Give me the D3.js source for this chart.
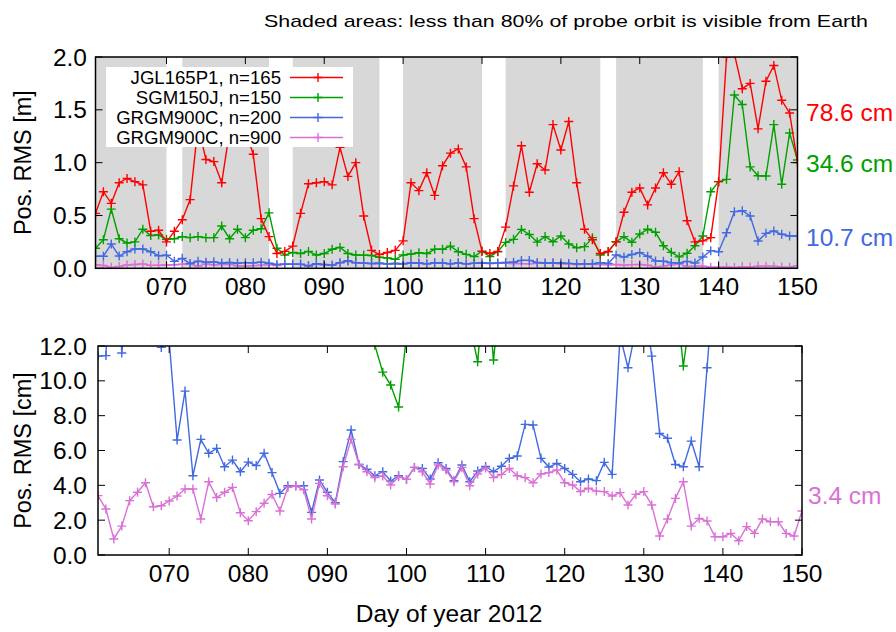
<!DOCTYPE html>
<html><head><meta charset="utf-8">
<script src="https://cdn.jsdelivr.net/npm/d3@7"></script>
<style>
html,body{margin:0;padding:0;background:#fff;}
svg{display:block;font-family:"Liberation Sans",Arial,sans-serif;}
</style></head>
<body><svg id="chart" width="896" height="632"></svg>
<script>
// ---- data (position RMS in cm, one value per day of year 2012) ----
const firstDay = 61, lastDay = 150;
const days = d3.range(firstDay, lastDay + 1);

const seriesNames = ["JGL165P1, n=165", "SGM150J, n=150", "GRGM900C, n=200", "GRGM900C, n=900"];
const seriesColors = ["#ff0000", "#00a000", "#4169e1", "#da70d6"];

const jgl165 = [52,72.5,61.5,81,85,82,79,35,36,25,35,46,65,135,103,101,81,130,145,130,
 108,47,30,14,16,21,52,80,81,82,79,114.5,87,100,49.5,17,13,15,17,26,
 81,73.5,90.5,69,97,109,113,96,47,16,14,16,39,78,116,72,99,93,136,112,
 139,81,37,27,14,16,25,53,72,76,60,76,90.5,79.5,91.5,45,25,26,29,82,
 200,203,170,175,132,177,192,159,147,100];
const sgm150 = [19,27,56,28,24,25,37,31,31.5,27.5,28,30,29,30,29,29,40,28,37,29,
 36,37.5,52.5,19,12.5,15,14,16,12.6,14,18,19.8,14,12.6,12.5,12.05,10.5,9.76,8.5,12.6,
 13.5,14.7,14,18,18,21,15.7,13.2,11.1,16.3,11.2,15.7,24.5,27.4,36.8,32,24.8,30,25.2,30.6,
 23,19.5,20.5,29,12.6,15.7,25.2,30,24.6,32.5,36.9,34.1,21.4,15.1,10.85,14.2,21.4,30.6,72.5,82,
 84.2,164,155,96,87.6,87.3,136,79.5,128,102.5];
const grgm200 = [11.42,11.45,23,11.6,15.7,18.3,18.3,15.7,11.92,12.3,6.6,9.41,4.55,6.64,5.84,6.12,5.07,5.45,4.78,5.33,
 5.14,5.84,4.73,3.54,3.98,3.98,3.98,2.45,4.31,3.6,3.0,5.36,7.18,5.2,4.92,4.55,4.78,4.25,4.55,4.34,
 5.03,4.97,4.36,5.3,4.97,4.27,5.17,4.21,4.82,5.08,4.78,5.1,5.55,5.68,7.5,7.46,5.55,5.05,5.26,4.97,
 4.63,4.21,4.36,4.27,5.32,4.63,12.6,10.75,13,14.8,11.42,6.98,6.7,5.2,5.07,6.54,5.07,10.75,16.7,15.7,
 33.7,53.6,54.5,49.5,25.8,33.1,35.3,32.2,30.6,30.6];
const grgm900 = [3.41,2.64,0.92,1.66,3.12,3.6,4.15,2.77,2.83,3.1,3.39,3.79,3.79,2.07,4.21,3.3,3.6,3.88,2.43,1.97,
 2.49,2.97,3.47,2.53,3.88,3.96,3.75,2.07,4.11,3.4,2.93,5.07,6.64,5.2,4.78,4.44,4.54,4.02,4.49,4.34,
 5.03,4.78,4.08,5.17,4.88,4.21,5.03,3.98,4.65,5.0,4.44,4.63,4.97,4.55,4.44,4.15,4.65,4.73,4.88,4.15,
 4.02,3.64,3.83,3.67,3.64,3.39,3.58,2.87,3.48,3.64,2.87,1.09,2.07,3.25,4.21,1.66,2.1,1.95,1.05,1.05,
 1.24,0.82,1.63,1.24,2.07,1.91,1.91,1.24,1.09,2.53];

// shaded intervals (day ranges)
const shadeStart = [61, 72, 86, 100, 113, 127, 140];
const shadeEnd   = [70, 83, 97, 110, 125, 138, 150];

const xTickDays = [70, 80, 90, 100, 110, 120, 130, 140, 150];
const xTickLabels = ["070", "080", "090", "100", "110", "120", "130", "140", "150"];
const topYTicks = [0, 0.5, 1.0, 1.5, 2.0];
const botYTicks = [0, 2, 4, 6, 8, 10, 12];

const rightLabelsTop = ["78.6 cm", "34.6 cm", "10.7 cm"];
const rightLabelBottom = "3.4 cm";

const allSeries = [jgl165, sgm150, grgm200, grgm900];

// ---- drawing ----
const svg = d3.select("#chart");
const FS = 24.5;

svg.append("text").attr("x", 868).attr("y", 27).attr("text-anchor", "end")
  .attr("font-size", 17).attr("textLength", 604).attr("lengthAdjust", "spacingAndGlyphs")
  .text("Shaded areas: less than 80% of probe orbit is visible from Earth");

function panel(cfg) {
  const g = svg.append("g");
  const x = d3.scaleLinear().domain([firstDay, lastDay]).range([cfg.x0, cfg.x1]);
  const y = d3.scaleLinear().domain(cfg.ydom).range([cfg.y0, cfg.y1]);
  const id = "clip" + cfg.name;
  svg.append("defs").append("clipPath").attr("id", id).append("rect")
    .attr("x", cfg.x0).attr("y", cfg.y1).attr("width", cfg.x1 - cfg.x0).attr("height", cfg.y0 - cfg.y1);
  const inner = g.append("g").attr("clip-path", `url(#${id})`);
  if (cfg.shade) {
    inner.selectAll("rect.sh").data(shadeStart).join("rect").attr("class", "sh")
      .attr("x", (d) => x(d)).attr("width", (d, i) => x(shadeEnd[i]) - x(d))
      .attr("y", cfg.y1).attr("height", cfg.y0 - cfg.y1).attr("fill", "#d8d8d8");
  }
  const line = d3.line().x((d, i) => x(days[i])).y((d) => y(d * cfg.scale));
  cfg.order.forEach((si) => {
    const vals = allSeries[si];
    inner.append("path").attr("d", line(vals)).attr("fill", "none")
      .attr("stroke", seriesColors[si]).attr("stroke-width", 1.4);
    const pts = inner.append("g");
    vals.forEach((v, i) => {
      const px = x(days[i]), py = y(v * cfg.scale);
      pts.append("path").attr("d", `M${px - 4.5},${py}H${px + 4.5}M${px},${py - 4.5}V${py + 4.5}`)
        .attr("stroke", seriesColors[si]).attr("stroke-width", 1.4);
    });
  });
  if (cfg.legend) {
    const lg = g.append("g");
    lg.append("rect").attr("x", 106).attr("y", 67).attr("width", 247).attr("height", 80).attr("fill", "#fff");
    seriesNames.forEach((n, i) => {
      const yy = 77.5 + i * 20;
      lg.append("text").attr("x", 281).attr("y", yy).attr("dy", "0.35em").attr("text-anchor", "end")
        .attr("font-size", 18.6).text(n);
      lg.append("line").attr("x1", 290).attr("x2", 343).attr("y1", yy).attr("y2", yy)
        .attr("stroke", seriesColors[i]).attr("stroke-width", 1.4);
      lg.append("path").attr("d", `M${313.5},${yy}H${322.5}M${318},${yy - 4.5}V${yy + 4.5}`)
        .attr("stroke", seriesColors[i]).attr("stroke-width", 1.4);
    });
  }
  // border
  g.append("rect").attr("x", cfg.x0).attr("y", cfg.y1).attr("width", cfg.x1 - cfg.x0)
    .attr("height", cfg.y0 - cfg.y1).attr("fill", "none").attr("stroke", "#000").attr("stroke-width", 1.5);
  // ticks (inward, mirrored)
  const tl = 7;
  xTickDays.forEach((d, i) => {
    const px = x(d);
    g.append("line").attr("x1", px).attr("x2", px).attr("y1", cfg.y0).attr("y2", cfg.y0 - tl).attr("stroke", "#000");
    g.append("line").attr("x1", px).attr("x2", px).attr("y1", cfg.y1).attr("y2", cfg.y1 + tl).attr("stroke", "#000");
    g.append("text").attr("x", px).attr("y", cfg.y0 + 18).attr("dy", "0.35em").attr("text-anchor", "middle")
      .attr("font-size", FS).text(xTickLabels[i]);
  });
  cfg.yticks.forEach((t) => {
    const py = y(t);
    g.append("line").attr("x1", cfg.x0).attr("x2", cfg.x0 + tl).attr("y1", py).attr("y2", py).attr("stroke", "#000");
    g.append("line").attr("x1", cfg.x1).attr("x2", cfg.x1 - tl).attr("y1", py).attr("y2", py).attr("stroke", "#000");
    g.append("text").attr("x", 87).attr("y", py).attr("dy", "0.35em").attr("text-anchor", "end")
      .attr("font-size", FS).text(d3.format(".1f")(t));
  });
  g.append("text").attr("transform", `translate(31,${(cfg.y0 + cfg.y1) / 2}) rotate(-90)`)
    .attr("text-anchor", "middle").attr("font-size", FS - 1).text(cfg.ylabel);
  return { x, y };
}

panel({ name: "top", x0: 95.5, x1: 797.5, y0: 268.3, y1: 57, ydom: [0, 2], scale: 0.01,
  shade: true, legend: true, order: [3, 2, 1, 0], yticks: topYTicks, ylabel: "Pos. RMS [m]" });
panel({ name: "bot", x0: 98, x1: 802, y0: 555, y1: 346, ydom: [0, 12], scale: 1,
  shade: false, legend: false, order: [1, 2, 3], yticks: botYTicks, ylabel: "Pos. RMS [cm]" });

const rly = [112, 163, 237];
rightLabelsTop.forEach((t, i) => {
  svg.append("text").attr("x", 806).attr("y", rly[i]).attr("dy", "0.35em").attr("font-size", FS)
    .attr("fill", seriesColors[i]).text(t);
});
svg.append("text").attr("x", 808).attr("y", 495).attr("dy", "0.35em").attr("font-size", FS)
  .attr("fill", seriesColors[3]).text(rightLabelBottom);

svg.append("text").attr("x", 449).attr("y", 613).attr("dy", "0.35em").attr("text-anchor", "middle")
  .attr("font-size", FS).text("Day of year 2012");
</script></body></html>
